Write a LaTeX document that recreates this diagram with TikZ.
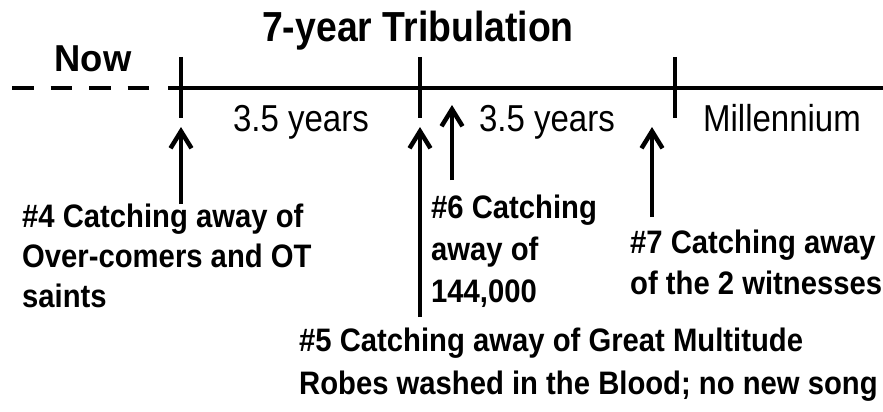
\documentclass[tikz,border=0pt]{standalone}
\usepackage{fontspec}
\setmainfont{Liberation Sans}
\newfontfamily\titlefont[FakeStretch=0.89]{Liberation Sans}
\newfontfamily\labelfont[FakeStretch=0.90]{Liberation Sans}
\newfontfamily\spanfont[FakeStretch=0.88]{Liberation Sans}
\newfontfamily\nowfont[FakeStretch=0.97]{Liberation Sans}
\usetikzlibrary{arrows.meta}
\begin{document}
\begin{tikzpicture}[x=1pt,y=-1pt,
  axisline/.style={line width=4.5pt},
  tickline/.style={line width=4.5pt},
  uparrow/.style={line width=4.5pt,-{Straight Barb[length=17pt,width=21pt]}},
  lbl/.style={font=\labelfont\fontsize{32.5}{38}\selectfont\bfseries, anchor=base west, inner sep=0pt},
  spanlbl/.style={font=\spanfont\fontsize{37.5}{44}\selectfont, anchor=base, inner sep=0pt},
  headlbl/.style={font=\titlefont\fontsize{42}{48}\selectfont\bfseries, anchor=base, inner sep=0pt},
  nowlbl/.style={font=\nowfont\fontsize{37.5}{44}\selectfont\bfseries, anchor=base, inner sep=0pt}]
\useasboundingbox (0,0) rectangle (883,412);

% time line
\coordinate (d0) at (12,88);
\coordinate (d1) at (150,88);
\coordinate (s0) at (168,88);
\coordinate (s1) at (883,88);
\draw[axisline, dash pattern=on 21.5pt off 17pt] (d0) -- (d1);
\draw[axisline] (s0) -- (s1);

% ticks
\coordinate (k1a) at (181,57);  \coordinate (k1b) at (181,118);
\coordinate (k2a) at (420,57);  \coordinate (k2b) at (420,118);
\coordinate (k3a) at (675,57);  \coordinate (k3b) at (675,118);
\draw[tickline] (k1a) -- (k1b);
\draw[tickline] (k2a) -- (k2b);
\draw[tickline] (k3a) -- (k3b);

% headings
\node[headlbl] (title) at (418,42) {7-year Tribulation};
\node[nowlbl] (now) at (93,71) {Now};

% spans
\node[spanlbl] (y1) at (301,131) {3.5 years};
\node[spanlbl] (y2) at (547,131) {3.5 years};
\node[spanlbl] (mil) at (782,131) {Millennium};

% labels
\node[lbl] (l4a) at (22,227) {\#4 Catching away of};
\node[lbl] (l4b) at (22,267) {Over-comers and OT};
\node[lbl] (l4c) at (22,307) {saints};

\node[lbl] (l6a) at (431,218) {\#6 Catching};
\node[lbl] (l6b) at (431,260) {away of};
\node[lbl] (l6c) at (431,302) {144,000};

\node[lbl] (l7a) at (630,253) {\#7 Catching away};
\node[lbl] (l7b) at (630,294) {of the 2 witnesses};

\node[lbl] (l5a) at (299,351) {\#5 Catching away of Great Multitude};
\node[lbl] (l5b) at (299,394) {Robes washed in the Blood; no new song};

% arrows
\coordinate (a4s) at (181,204); \coordinate (a4e) at (181,127);
\coordinate (a5s) at (420,317); \coordinate (a5e) at (420,127);
\coordinate (a6s) at (452,180); \coordinate (a6e) at (452,105);
\coordinate (a7s) at (652,217); \coordinate (a7e) at (652,127);
\draw[uparrow] (a4s) -- (a4e);
\draw[uparrow] (a5s) -- (a5e);
\draw[uparrow] (a6s) -- (a6e);
\draw[uparrow] (a7s) -- (a7e);
\end{tikzpicture}
\end{document}
